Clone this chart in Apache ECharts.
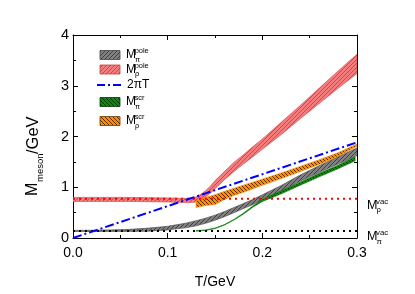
<!DOCTYPE html>
<html><head><meta charset="utf-8">
<script src="https://cdn.jsdelivr.net/npm/echarts@6/dist/echarts.min.js"></script>
<style>html,body{margin:0;padding:0;background:#fff}#c{width:415px;height:294px}</style>
</head><body><div id="c"></div>
<script>
// ---------- data (GeV) ----------
const xTickLabels = ['0.0', '0.1', '0.2', '0.3'];
const yTickLabels = ['0', '1', '2', '3', '4'];

// M_pi pole band
const T_piPole  = [0, 0.02, 0.04, 0.06, 0.08, 0.10, 0.12, 0.13, 0.14, 0.15, 0.16, 0.17, 0.18, 0.19, 0.20, 0.22, 0.24, 0.26, 0.28, 0.30];
const piPoleLo  = [0.13, 0.128, 0.13, 0.13, 0.135, 0.16, 0.205, 0.24, 0.29, 0.35, 0.42, 0.50, 0.58, 0.66, 0.75, 0.925, 1.12, 1.295, 1.46, 1.625];
const piPoleHi  = [0.15, 0.152, 0.16, 0.17, 0.195, 0.23, 0.295, 0.34, 0.39, 0.45, 0.52, 0.60, 0.68, 0.76, 0.85, 1.035, 1.24, 1.425, 1.60, 1.775];

// M_rho pole band
const T_rhoPole = [0, 0.02, 0.04, 0.06, 0.08, 0.10, 0.11, 0.12, 0.125, 0.13, 0.135, 0.14, 0.145, 0.15, 0.16, 0.17, 0.18, 0.19, 0.20, 0.22, 0.24, 0.26, 0.28, 0.30];
const rhoPoleLo = [0.72, 0.72, 0.72, 0.72, 0.715, 0.71, 0.705, 0.70, 0.70, 0.71, 0.74, 0.81, 0.88, 0.97, 1.15, 1.31, 1.46, 1.60, 1.75, 2.04, 2.35, 2.65, 2.95, 3.24];
const rhoPoleHi = [0.80, 0.80, 0.80, 0.80, 0.795, 0.79, 0.785, 0.78, 0.79, 0.81, 0.86, 0.93, 1.02, 1.13, 1.31, 1.49, 1.64, 1.80, 1.95, 2.28, 2.61, 2.95, 3.29, 3.62];

// M_pi screening band
const T_piScr   = [0.13, 0.14, 0.15, 0.16, 0.17, 0.18, 0.19, 0.20, 0.21, 0.22, 0.24, 0.26, 0.28, 0.298];
const piScrLo   = [0.135, 0.15, 0.185, 0.255, 0.355, 0.47, 0.608, 0.72, 0.795, 0.87, 1.04, 1.205, 1.365, 1.52];
const piScrHi   = [0.145, 0.16, 0.195, 0.265, 0.365, 0.49, 0.632, 0.76, 0.845, 0.93, 1.10, 1.275, 1.435, 1.60];

// M_rho screening band
const T_rhoScr  = [0.13, 0.135, 0.14, 0.15, 0.16, 0.17, 0.18, 0.20, 0.22, 0.24, 0.26, 0.28, 0.30];
const rhoScrLo  = [0.60, 0.62, 0.64, 0.66, 0.76, 0.84, 0.90, 1.04, 1.17, 1.31, 1.45, 1.61, 1.81];
const rhoScrHi  = [0.74, 0.77, 0.80, 0.85, 0.92, 0.98, 1.04, 1.16, 1.28, 1.41, 1.54, 1.68, 1.85];

// 2 pi T line
const T_2piT = [0, 0.3];
const M_2piT = [0, 1.885];

// vacuum masses (horizontal dotted lines)
const T_vac = [0, 0.3];
const M_piVac = [0.14, 0.14];
const M_rhoVac = [0.775, 0.775];

// ---------- helpers ----------
function makePattern(bg, fg, dir, size, lw) {
  const c = document.createElement('canvas');
  c.width = c.height = size;
  const ctx = c.getContext('2d');
  ctx.fillStyle = bg; ctx.fillRect(0, 0, size, size);
  ctx.strokeStyle = fg; ctx.lineWidth = lw;
  for (let k = -1; k <= 1; k++) {
    ctx.beginPath();
    if (dir === '/') { ctx.moveTo(k * size, size); ctx.lineTo(k * size + size, 0); }
    else { ctx.moveTo(k * size, 0); ctx.lineTo(k * size + size, size); }
    ctx.stroke();
  }
  return { image: c, repeat: 'repeat' };
}
const patGrey   = makePattern('#808080', '#404040', '/', 4, 1);
const patRed    = makePattern('#f47c7c', '#dc4444', '/', 4, 1);
const patGreen  = makePattern('#0a8a0a', '#053805', '\\', 4, 1);
const patOrange = makePattern('#ff8c00', '#5a2a00', '\\', 4, 1);

function band(name, T, lo, hi, fill, stroke) {
  return {
    type: 'custom', name: name, clip: true,
    data: T.map((t, i) => [t, lo[i], hi[i]]),
    encode: { x: 0, y: [1, 2] },
    renderItem: function (params, api) {
      if (params.dataIndexInside !== 0) return null;
      const n = params.dataInsideLength;
      const pts = [];
      for (let i = 0; i < n; i++) pts.push(api.coord([api.value(0, i), api.value(1, i)]));
      for (let i = n - 1; i >= 0; i--) pts.push(api.coord([api.value(0, i), api.value(2, i)]));
      return { type: 'polygon', shape: { points: pts }, style: { fill: fill, stroke: stroke, lineWidth: 0.7 } };
    }
  };
}
function pairs(xs, ys) { return xs.map((x, i) => [x, ys[i]]); }

const FONT = '"Liberation Sans", Arial, sans-serif';
function txt(x, y, s, size, align) {
  return { type: 'text', x: x, y: y, silent: true,
    style: { text: s, font: size + 'px ' + FONT, fill: '#000', align: align || 'left', verticalAlign: 'middle' } };
}
// M with super/sub script
function mLabel(x, y, sup, sub, size) {
  return [txt(x, y, 'M', size), txt(x + size * 0.72, y - size * 0.3, sup, size * 0.62), txt(x + size * 0.75, y + size * 0.38, sub, size * 0.62)];
}

const chart = echarts.init(document.getElementById('c'), null, { renderer: 'canvas' });

const axisCommonX = {
  type: 'value', min: 0, max: 0.3, interval: 0.1,
  axisLine: { onZero: false, lineStyle: { color: '#000', width: 1 } },
  axisTick: { inside: true, length: 5, lineStyle: { color: '#000' } },
  minorTick: { show: true, splitNumber: 2, length: 3, lineStyle: { color: '#000' } },
  splitLine: { show: false }
};
const axisCommonY = {
  type: 'value', min: 0, max: 4, interval: 1,
  axisLine: { onZero: false, lineStyle: { color: '#000', width: 1 } },
  axisTick: { inside: true, length: 5, lineStyle: { color: '#000' } },
  minorTick: { show: true, splitNumber: 2, length: 3, lineStyle: { color: '#000' } },
  splitLine: { show: false }
};

// legend graphics
const lgX = 100, lgW = 20, lgH = 9;
const legendRows = [55, 69.5, 85, 102, 121];
const graphics = [
  { type: 'rect', shape: { x: lgX, y: legendRows[0] - lgH / 2, width: lgW, height: lgH }, style: { fill: patGrey, stroke: '#444', lineWidth: 0.8 } },
  { type: 'rect', shape: { x: lgX, y: legendRows[1] - lgH / 2, width: lgW, height: lgH }, style: { fill: patRed, stroke: '#c04040', lineWidth: 0.8 } },
  { type: 'line', shape: { x1: lgX - 3, y1: legendRows[2], x2: lgX + lgW + 3, y2: legendRows[2] }, style: { stroke: '#0000ff', lineWidth: 2, lineDash: [8, 3, 2, 3] } },
  { type: 'rect', shape: { x: lgX, y: legendRows[3] - lgH / 2, width: lgW, height: lgH }, style: { fill: patGreen, stroke: '#053805', lineWidth: 0.8 } },
  { type: 'rect', shape: { x: lgX, y: legendRows[4] - lgH / 2, width: lgW, height: lgH }, style: { fill: patOrange, stroke: '#6a3a00', lineWidth: 0.8 } }
]
  .concat(mLabel(126, legendRows[0], 'pole', 'π', 12))
  .concat(mLabel(126, legendRows[1], 'pole', 'ρ', 12))
  .concat([txt(127, legendRows[2], '2πT', 12)])
  .concat(mLabel(126, legendRows[3], 'scr', 'π', 12))
  .concat(mLabel(126, legendRows[4], 'scr', 'ρ', 12))
  // right-side vacuum labels
  .concat(mLabel(367, 205.5, 'vac', 'ρ', 12.5))
  .concat(mLabel(367, 237, 'vac', 'π', 12.5))
  // y axis title (rotated)
  .concat([{
    type: 'group', x: 33, y: 196, rotation: Math.PI / 2, silent: true,
    children: [
      { type: 'text', x: 0, y: 0, style: { text: 'M', font: '16px ' + FONT, fill: '#000', align: 'left', verticalAlign: 'middle' } },
      { type: 'text', x: 14, y: 7, style: { text: 'meson', font: '9.5px ' + FONT, fill: '#000', align: 'left', verticalAlign: 'middle' } },
      { type: 'text', x: 42, y: 0, style: { text: '/GeV', font: '16.5px ' + FONT, fill: '#000', align: 'left', verticalAlign: 'middle' } }
    ]
  }]);

chart.setOption({
  animation: false,
  backgroundColor: '#fff',
  grid: { left: 73, right: 58, top: 35, bottom: 51, containLabel: false },
  xAxis: [
    Object.assign({}, axisCommonX, {
      position: 'bottom',
      axisLabel: { color: '#000', fontSize: 14, fontFamily: FONT, margin: 8,
        formatter: v => xTickLabels[Math.round(v * 10)] },
      name: 'T/GeV', nameLocation: 'middle', nameGap: 37,
      nameTextStyle: { color: '#000', fontSize: 14, fontFamily: FONT }
    }),
    Object.assign({}, axisCommonX, { position: 'top', axisLabel: { show: false } })
  ],
  yAxis: [
    Object.assign({}, axisCommonY, {
      position: 'left',
      axisLabel: { color: '#000', fontSize: 14.5, fontFamily: FONT, margin: 4,
        formatter: v => yTickLabels[Math.round(v)] }
    }),
    Object.assign({}, axisCommonY, { position: 'right', axisLabel: { show: false } })
  ],
  graphic: graphics,
  series: [
    band('Mpi_pole', T_piPole, piPoleLo, piPoleHi, patGrey, '#555'),
    band('Mrho_pole', T_rhoPole, rhoPoleLo, rhoPoleHi, patRed, '#e05050'),
    band('Mrho_scr', T_rhoScr, rhoScrLo, rhoScrHi, patOrange, '#ff8c00'),
    band('Mpi_scr', T_piScr, piScrLo, piScrHi, patGreen, '#0a8a0a'),
    { type: 'line', name: 'Mpi_vac', data: pairs(T_vac, M_piVac), showSymbol: false, xAxisIndex: 0, yAxisIndex: 0,
      lineStyle: { color: '#000', width: 2, type: [2, 4] }, z: 3 },
    { type: 'line', name: 'Mrho_vac', data: pairs(T_vac, M_rhoVac), showSymbol: false,
      lineStyle: { color: '#ff0000', width: 2, type: [2, 4] }, z: 3 },
    { type: 'line', name: '2piT', data: pairs(T_2piT, M_2piT), showSymbol: false,
      lineStyle: { color: '#0000ff', width: 2, type: [9, 3, 2, 3] }, z: 4 }
  ]
});
</script></body></html>
